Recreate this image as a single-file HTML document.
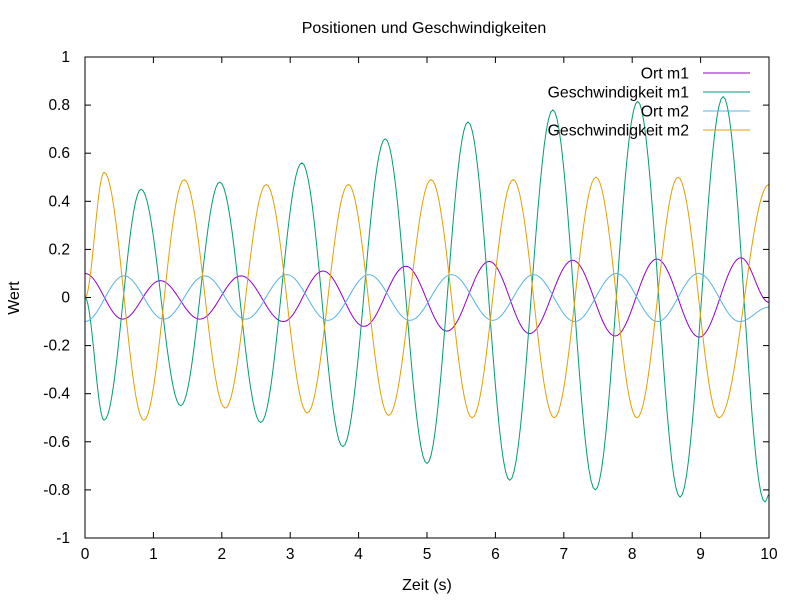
<!DOCTYPE html>
<html><head><meta charset="utf-8"><style>
body{margin:0;background:#fff}
svg{display:block;font-family:"Liberation Sans",sans-serif}
</style></head><body>
<svg id="chart" width="800" height="600" viewBox="0 0 800 600">
<rect width="800" height="600" fill="#fff"/>
<text x="424" y="33" font-size="16" text-anchor="middle">Positionen und Geschwindigkeiten</text>
<text x="427" y="590" font-size="16" text-anchor="middle">Zeit (s)</text>
<text x="19" y="298" font-size="16" text-anchor="middle" transform="rotate(-90 19 298)">Wert</text>
<g id="axes"></g>
<g id="series"></g>
<g id="legend"></g>
<rect x="85" y="57" width="684" height="481" fill="none" stroke="#000" stroke-width="1"/>
</svg>
<script>
const xTicks=[0,1,2,3,4,5,6,7,8,9,10];
const yTicks=[-1,-0.8,-0.6,-0.4,-0.2,0,0.2,0.4,0.6,0.8,1];
const yTickLabels=["-1","-0.8","-0.6","-0.4","-0.2","0","0.2","0.4","0.6","0.8","1"];
const seriesNames=["Ort m1","Geschwindigkeit m1","Ort m2","Geschwindigkeit m2"];
const seriesColors=["#9400d3","#009e73","#56b4e9","#e69f00"];
const ortM1T=[0,0.55,1.1,1.68,2.28,2.9,3.48,4.08,4.69,5.29,5.91,6.5,7.13,7.75,8.36,8.98,9.59,10];
const ortM1V=[0.1,-0.09,0.07,-0.09,0.09,-0.1,0.11,-0.12,0.13,-0.14,0.15,-0.15,0.155,-0.16,0.16,-0.165,0.165,-0.02];
const gesM1T=[0,0.28,0.82,1.4,1.97,2.57,3.17,3.77,4.39,5.0,5.6,6.21,6.84,7.46,8.08,8.7,9.33,9.94,10];
const gesM1V=[0,-0.51,0.45,-0.45,0.48,-0.52,0.56,-0.62,0.66,-0.69,0.73,-0.76,0.78,-0.8,0.815,-0.83,0.835,-0.85,-0.82];
const ortM2T=[0,0.57,1.15,1.75,2.35,2.95,3.55,4.15,4.75,5.36,5.96,6.56,7.16,7.77,8.37,8.97,9.57,10];
const ortM2V=[-0.1,0.09,-0.09,0.09,-0.09,0.095,-0.095,0.095,-0.095,0.095,-0.095,0.095,-0.1,0.1,-0.1,0.1,-0.1,-0.04];
const gesM2T=[0,0.28,0.86,1.45,2.05,2.65,3.25,3.85,4.44,5.06,5.66,6.26,6.86,7.47,8.07,8.67,9.27,10];
const gesM2V=[0,0.52,-0.51,0.49,-0.46,0.47,-0.48,0.47,-0.49,0.49,-0.5,0.49,-0.5,0.5,-0.5,0.5,-0.5,0.47];
const allT=[ortM1T,gesM1T,ortM2T,gesM2T];
const allV=[ortM1V,gesM1V,ortM2V,gesM2V];

const X0=85,X1=769,Y0=538,Y1=57;
const xs=t=>X0+(t-0)/(10-0)*(X1-X0);
const ys=v=>Y0-(v+1)/2*(Y0-Y1);
const NS="http://www.w3.org/2000/svg";
function mk(tag,attrs,parent){const e=document.createElementNS(NS,tag);for(const k in attrs)e.setAttribute(k,attrs[k]);parent.appendChild(e);return e;}
const axes=document.getElementById('axes');
xTicks.forEach(t=>{
  const x=xs(t);
  const a=mk('line',{x1:x,y1:Y0,x2:x,y2:Y0-6,stroke:'#000'},axes);
  
  
  const b=mk('line',{x1:x,y1:Y1,x2:x,y2:Y1+6,stroke:'#000'},axes);
  
  
  const l=mk('text',{x:x,y:Y0+21,'font-size':15.5,'text-anchor':'middle'},axes);
  l.textContent=String(t);
  
  
});
yTicks.forEach((v,i)=>{
  const y=ys(v);
  const a=mk('line',{x1:X0,y1:y,x2:X0+6,y2:y,stroke:'#000'},axes);
  
  
  const b=mk('line',{x1:X1,y1:y,x2:X1-6,y2:y,stroke:'#000'},axes);
  
  
  const l=mk('text',{x:X0-15,y:y+5,'font-size':15.5,'text-anchor':'end'},axes);
  l.textContent=yTickLabels[i];
  
  
});
const sg=document.getElementById('series');
allT.forEach((T,s)=>{
  const V=allV[s];let d='';
  for(let i=0;i<T.length-1;i++){
    for(let k=0;k<=20;k++){
      if(i>0&&k===0)continue;
      const u=k/20;const t=T[i]+(T[i+1]-T[i])*u;
      const v=V[i]+(V[i+1]-V[i])*(1-Math.cos(Math.PI*u))/2;
      d+=(d?'L':'M')+xs(t).toFixed(2)+','+ys(v).toFixed(2);
    }
  }
  const p=mk('path',{d:d,fill:'none',stroke:seriesColors[s],'stroke-width':1},sg);
  
  
});
const lg=document.getElementById('legend');
seriesNames.forEach((n,i)=>{
  const y=73+i*19;
  const t=mk('text',{x:689,y:y+5.5,'font-size':15.8,'text-anchor':'end'},lg);
  t.textContent=n;
  
  
  const l=mk('line',{x1:703,y1:y,x2:750,y2:y,stroke:seriesColors[i]},lg);
  
  
});
</script>
</body></html>
